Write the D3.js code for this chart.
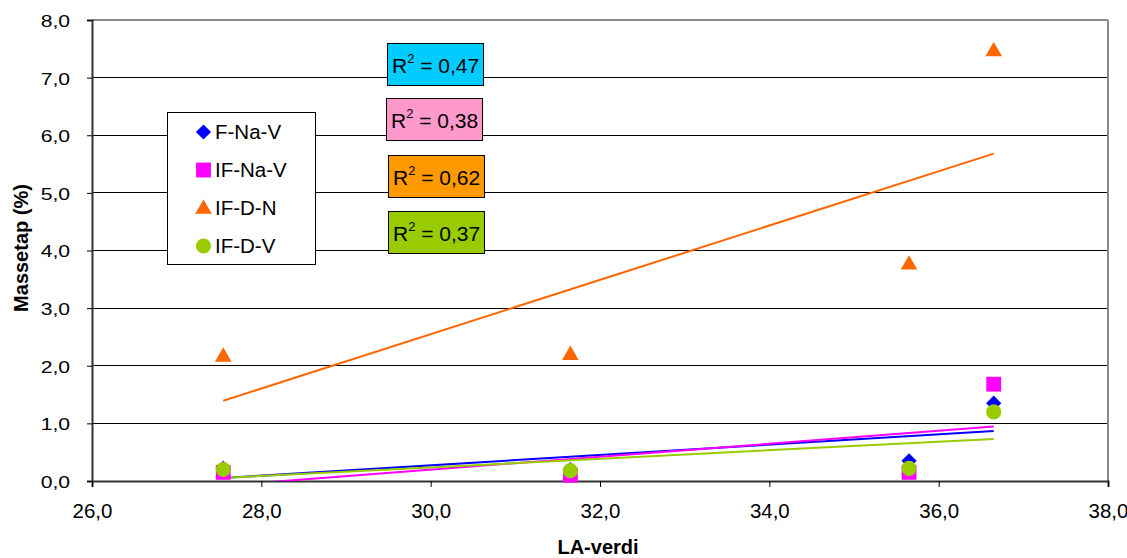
<!DOCTYPE html>
<html><head><meta charset="utf-8">
<script src="https://cdn.jsdelivr.net/npm/d3@7"></script>
<style>body{margin:0;background:#fff}svg{display:block;font-family:Arial,"Liberation Sans",sans-serif}</style>
</head><body>
<svg id="c" width="1127" height="558"></svg>
<script>
const xValues = [27.55, 31.65, 35.65, 36.65];
const seriesNames = ["F-Na-V", "IF-Na-V", "IF-D-N", "IF-D-V"];
const fNaV = [0.22, 0.20, 0.35, 1.35];
const ifNaV = [0.15, 0.10, 0.15, 1.68];
const ifDN = [2.17, 2.20, 3.77, 7.47];
const ifDV = [0.20, 0.18, 0.22, 1.20];
const r2Labels = ["0,47", "0,38", "0,62", "0,37"];
const yTicks = [0,1,2,3,4,5,6,7,8];
const xTicks = [26,28,30,32,34,36,38];

const colors = ["#0000FF", "#FF00FF", "#FF6600", "#99CC00"];
const boxColors = ["#00CCFF", "#FF99CC", "#FF9900", "#99CC00"];
const series = [fNaV, ifNaV, ifDN, ifDV];

const svg = d3.select("#c");
const L = 92, R = 1108, T = 20, B = 481;
const x = d3.scaleLinear().domain([26, 38]).range([L, R]);
const y = d3.scaleLinear().domain([0, 8]).range([B, T]);
const fmt = d => d3.format(".1f")(d).replace(".", ",");

function stretch(sel, k){
  sel.each(function(){
    const w = this.getComputedTextLength();
    d3.select(this).attr("textLength", w*k).attr("lengthAdjust","spacingAndGlyphs");
  });
}
function marker(g, i, cx, cy){
  const p = g.append("path").attr("fill", colors[i]);
  if (i === 0) p.attr("d", d3.symbol().type(d3.symbolSquare).size(115)()).attr("transform",`translate(${cx},${cy}) rotate(45)`);
  else if (i === 1) p.attr("d", d3.symbol().type(d3.symbolSquare).size(220)()).attr("transform",`translate(${cx},${cy})`);
  else if (i === 2) p.attr("d", d3.symbol().type(d3.symbolTriangle).size(120)()).attr("transform",`translate(${cx},${cy+1})`);
  else p.attr("d", d3.symbol().type(d3.symbolCircle).size(180)()).attr("transform",`translate(${cx},${cy})`);
}

svg.append("clipPath").attr("id","pc").append("rect").attr("x",L).attr("y",T).attr("width",R-L).attr("height",B-T);

// gridlines
svg.append("g").selectAll("line").data(yTicks.filter(d=>d>0 && d<8)).join("line")
  .attr("x1",L).attr("x2",R).attr("y1",d=>y(d)).attr("y2",d=>y(d))
  .attr("stroke","#000").attr("stroke-width",1).attr("shape-rendering","crispEdges");
svg.append("line").attr("x1",L).attr("x2",R).attr("y1",T).attr("y2",T).attr("stroke","#888").attr("stroke-width",2);
svg.append("line").attr("x1",R).attr("x2",R).attr("y1",T).attr("y2",B).attr("stroke","#888").attr("stroke-width",2);

// axes
const yAxis = svg.append("g").attr("transform",`translate(${L},0)`)
  .call(d3.axisLeft(y).tickValues(yTicks).tickFormat(fmt).tickSize(5).tickPadding(17));
const xAxis = svg.append("g").attr("transform",`translate(0,${B})`)
  .call(d3.axisBottom(x).tickValues(xTicks).tickFormat(fmt).tickSize(6).tickPadding(21));
[yAxis, xAxis].forEach(a => {
  a.select(".domain").attr("stroke","#333").attr("stroke-width",2);
  a.selectAll(".tick line").attr("stroke","#000");
  a.selectAll("text").attr("fill","#000").attr("font-family","Arial, Liberation Sans, sans-serif");
});
yAxis.selectAll("text").attr("font-size",16).attr("dy","0.4em");
stretch(yAxis.selectAll("text"), 1.32);
xAxis.selectAll("text").attr("font-size",19.5).attr("dy","0.5em");
stretch(xAxis.selectAll("text"), 1.05);

// trend lines (least squares from data)
function fit(xs, ys){
  const mx = d3.mean(xs), my = d3.mean(ys);
  let sxy=0, sxx=0;
  xs.forEach((v,i)=>{sxy+=(v-mx)*(ys[i]-my); sxx+=(v-mx)*(v-mx);});
  const m = sxy/sxx; return v => my + m*(v-mx);
}
const xMin = d3.min(xValues), xMax = d3.max(xValues);
const lineG = svg.append("g").attr("clip-path","url(#pc)");
series.forEach((s,i)=>{
  const f = fit(xValues, s);
  lineG.append("line").attr("x1",x(xMin)).attr("x2",x(xMax)).attr("y1",y(f(xMin))).attr("y2",y(f(xMax)))
    .attr("stroke",colors[i]).attr("stroke-width",2);
});

// markers
series.forEach((s,i)=>{
  const g = svg.append("g");
  s.forEach((v,j)=>marker(g, i, x(xValues[j]), y(v)));
});

// legend
const lg = svg.append("g");
lg.append("rect").attr("x",167.5).attr("y",112.5).attr("width",148).attr("height",152).attr("fill","#fff").attr("stroke","#000");
seriesNames.forEach((n,i)=>{
  const yy = 132 + i*38;
  marker(lg, i, 203.5, yy);
  lg.append("text").attr("x",215).attr("y",yy+7).attr("font-size",20.5).text(n);
});

// R² boxes
const boxPos = [[387,43],[386,98],[388,155],[388,211]];
r2Labels.forEach((t,i)=>{
  const [bx,by] = boxPos[i];
  svg.append("rect").attr("x",bx+0.5).attr("y",by+0.5).attr("width",96).attr("height",42)
    .attr("fill",boxColors[i]).attr("stroke","#000");
  const tx = svg.append("text").attr("x",bx+5).attr("y",by+30).attr("font-size",21);
  tx.append("tspan").text("R");
  tx.append("tspan").attr("dy",-10).attr("font-size",13).text("2");
  tx.append("tspan").attr("dy",10).text(" = " + t);
});

// axis titles
svg.append("text").attr("transform",`translate(28,248) rotate(-90)`).attr("text-anchor","middle")
  .attr("font-size",20).attr("font-weight","bold").text("Massetap (%)");
svg.append("text").attr("x",598).attr("y",554).attr("text-anchor","middle")
  .attr("font-size",20).attr("font-weight","bold").text("LA-verdi");
</script>
</body></html>
